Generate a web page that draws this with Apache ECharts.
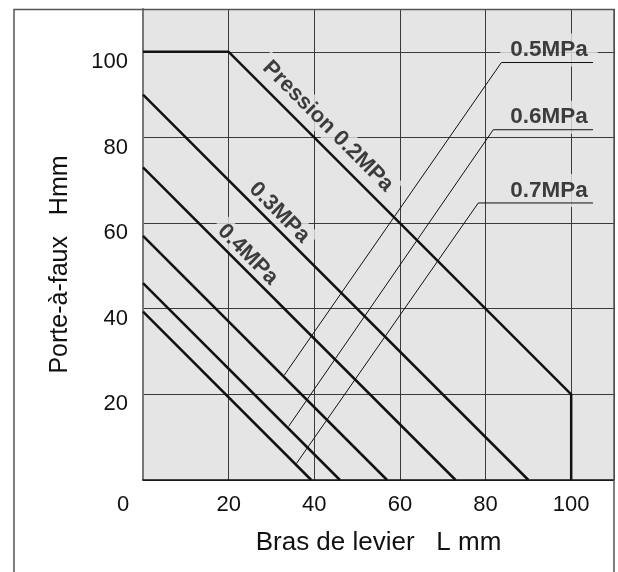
<!DOCTYPE html>
<html>
<head>
<meta charset="utf-8">
<script src="https://cdn.jsdelivr.net/npm/echarts@6/dist/echarts.min.js"></script>
<style>
  html, body { margin: 0; padding: 0; background: #fff; }
  #chart { width: 618px; height: 572px; }
</style>
</head>
<body>
<div id="chart"></div>
<script>
// axis ticks
const xTicks = [0, 20, 40, 60, 80, 100];
const yTicks = [0, 20, 40, 60, 80, 100];

// limit lines per pressure (L mm, H mm)
const pressures = ['0.2MPa', '0.3MPa', '0.4MPa', '0.5MPa', '0.6MPa', '0.7MPa'];
const line02 = [[0, 100], [20, 100], [100, 20], [100, 0]];
const line03 = [[0, 90], [90, 0]];
const line04 = [[0, 73], [73, 0]];
const line05 = [[0, 57], [57, 0]];
const line06 = [[0, 46], [46, 0]];
const line07 = [[0, 39.3], [39.3, 0]];

// leader lines for the 0.5 / 0.6 / 0.7 labels
const leader05 = [[33, 24.5], [83.7, 97.5], [105.1, 97.5]];
const leader06 = [[34, 12.5], [81.8, 81.8], [105.1, 81.8]];
const leader07 = [[35.8, 3.8], [78.3, 64.7], [105.1, 64.7]];

const FONT = "'Liberation Sans', Arial, sans-serif";
const INK = '#111';
const PLOT_BG = '#e5e5e5';

// y of a polyline at a given x (used only to anchor labels on a line)
function onLine(pts, x) {
  for (let i = 1; i < pts.length; i++) {
    const a = pts[i - 1], b = pts[i];
    if (x >= a[0] && x <= b[0] && b[0] !== a[0]) {
      return a[1] + (b[1] - a[1]) * (x - a[0]) / (b[0] - a[0]);
    }
  }
  return pts[0][1];
}

function lineSeries(name, pts, width) {
  return {
    type: 'line',
    name: name,
    data: pts,
    symbol: 'none',
    silent: true,
    z: 3,
    lineStyle: { color: INK, width: width }
  };
}

// rotated labels sitting along the diagonal lines (offset is in the label's own frame)
const diagLabel = {
  show: true,
  position: 'inside',
  rotate: -45,
  color: INK,
  fontFamily: FONT,
  fontWeight: 'bold',
  fontSize: 22,
  backgroundColor: PLOT_BG,
  padding: [2, 6]
};
const boxLabel = {
  show: true,
  position: 'inside',
  color: INK,
  fontFamily: FONT,
  fontWeight: 'bold',
  fontSize: 22.5,
  backgroundColor: PLOT_BG,
  padding: [5, 10],
  offset: [-44, -12.5]
};

const labelData = [
  { value: [40.3, onLine(line02, 40.3)], label: Object.assign({}, diagLabel, { formatter: 'Pression ' + pressures[0], offset: [0, -17.5] }) },
  { value: [29.7, onLine(line03, 29.7)], label: Object.assign({}, diagLabel, { formatter: pressures[1], offset: [0, -13] }) },
  { value: [22.4, onLine(line04, 22.4)], label: Object.assign({}, diagLabel, { formatter: pressures[2], offset: [0, -12.5] }) },
  { value: leader05[2], label: Object.assign({}, boxLabel, { formatter: pressures[3] }) },
  { value: leader06[2], label: Object.assign({}, boxLabel, { formatter: pressures[4] }) },
  { value: leader07[2], label: Object.assign({}, boxLabel, { formatter: pressures[5] }) }
];

const chart = echarts.init(document.getElementById('chart'));

chart.setOption({
  animation: false,
  grid: {
    left: 143, right: 4, top: 9, bottom: 92,
    show: true, backgroundColor: PLOT_BG, borderWidth: 0,
    containLabel: false
  },
  xAxis: {
    type: 'value',
    min: 0, max: 110, interval: 20,
    name: 'Bras de levier   L mm',
    nameLocation: 'middle',
    nameGap: 50,
    nameTextStyle: { fontFamily: FONT, fontSize: 26, color: INK },
    axisLine: { lineStyle: { color: INK, width: 1.5 } },
    axisTick: { show: false },
    axisLabel: {
      margin: 14,
      fontFamily: FONT, fontSize: 22, color: INK,
      formatter: v => (xTicks.indexOf(v) < 0 ? '' : (v === 0 ? '{o|0}' : String(v))),
      rich: { o: { fontFamily: FONT, fontSize: 22, color: INK, padding: [0, 40, 0, 0] } }
    },
    splitLine: { show: true, lineStyle: { color: '#3a3a3a', width: 1 } }
  },
  yAxis: {
    type: 'value',
    min: 0, max: 110, interval: 20,
    name: 'Porte-à-faux   Hmm',
    nameLocation: 'middle',
    nameGap: 70,
    nameTextStyle: { fontFamily: FONT, fontSize: 25, color: INK, padding: [0, 40, 0, 0] },
    axisLine: { lineStyle: { color: '#777', width: 2 } },
    axisTick: { show: false },
    axisLabel: {
      margin: 15,
      fontFamily: FONT, fontSize: 22, color: INK,
      verticalAlign: 'top',
      lineHeight: 20,
      formatter: v => (v === 0 || yTicks.indexOf(v) < 0 ? '' : String(v))
    },
    splitLine: { show: true, lineStyle: { color: '#3a3a3a', width: 1 } }
  },
  graphic: [{
    type: 'rect',
    silent: true,
    z: 10,
    shape: { x: 14, y: 9.5, width: 600, height: 700 },
    style: { fill: 'none', stroke: '#555', lineWidth: 1.5 }
  }],
  series: [
    {
      type: 'scatter',
      name: 'labels',
      symbolSize: 0,
      silent: true,
      z: 1,
      data: labelData
    },
    lineSeries(pressures[0], line02, 2.5),
    lineSeries(pressures[1], line03, 2.5),
    lineSeries(pressures[2], line04, 2.5),
    lineSeries(pressures[3], line05, 2.5),
    lineSeries(pressures[4], line06, 2.5),
    lineSeries(pressures[5], line07, 2.5),
    lineSeries(pressures[3] + ' leader', leader05, 1),
    lineSeries(pressures[4] + ' leader', leader06, 1),
    lineSeries(pressures[5] + ' leader', leader07, 1)
  ]
});

window.addEventListener('resize', () => chart.resize());
</script>
</body>
</html>
